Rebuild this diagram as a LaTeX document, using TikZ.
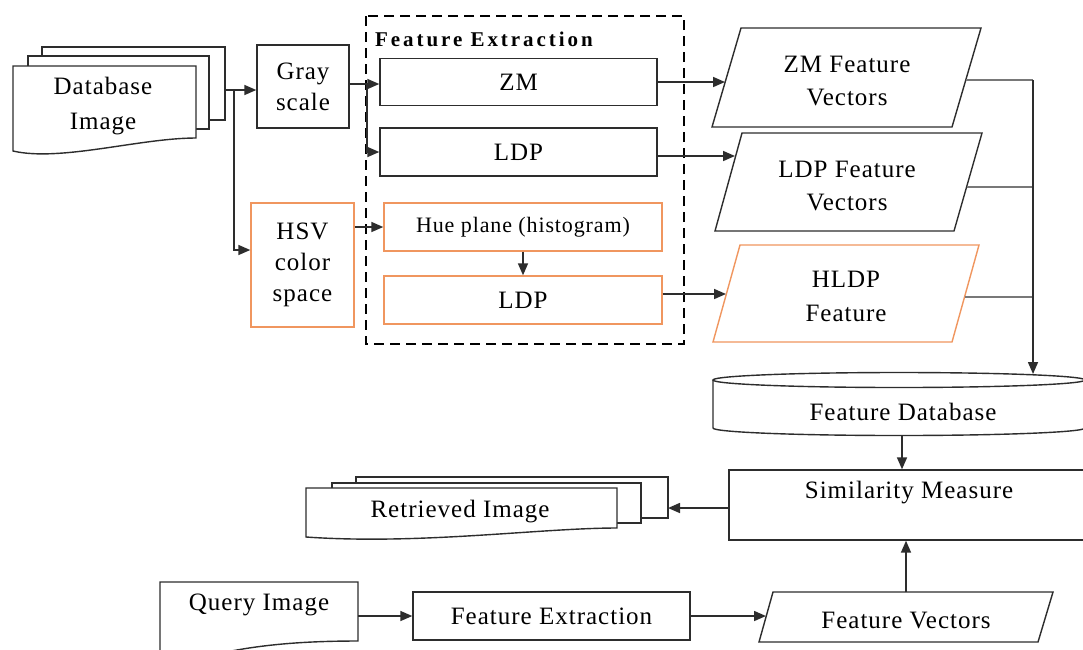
\documentclass[tikz,border=0pt]{standalone}
\usepackage{fontspec}
\setmainfont{Liberation Serif}[LetterSpace=4]
\usetikzlibrary{arrows.meta}
\definecolor{org}{RGB}{240,150,95}
\definecolor{ln}{RGB}{45,45,45}
\definecolor{lg}{RGB}{120,120,120}
\begin{document}
\begin{tikzpicture}[x=1pt,y=-1pt,
  every node/.style={font=\fontsize{25}{31}\selectfont, align=center, inner sep=0pt},
  box/.style={draw=ln, line width=1.4pt, fill=white},
  obox/.style={draw=org, line width=1.4pt, fill=white},
  shp/.style={draw=ln, line width=1.4pt, fill=white},
  oshp/.style={draw=org, line width=1.4pt, fill=white},
  arr/.style={draw=ln, line width=1.6pt, -{Triangle[length=12pt,width=10pt]}},
  con/.style={draw=ln, line width=1.6pt},
  gcon/.style={draw=lg, line width=1.6pt}]
\clip (0,0) rectangle (1083,649);
\fill[white] (0,0) rectangle (1083,649);

% ---- Database image stack
\draw[shp] (42,47) rectangle (225,120);
\draw[shp] (28,56) rectangle (209,129);
\draw[shp] (13,66) -- (196,66) -- (196,138) .. controls (140,138) and (60,162) .. (13,151) -- cycle;
\node[font=\fontsize{25}{35}\selectfont] (dbimg) at (103,106) {Database\\Image};
\coordinate (stackout) at (225,90);
\coordinate (br) at (234,90);

% ---- Gray scale, HSV
\node[box, minimum width=92pt, minimum height=83pt] (gray) at (303,86.5) {Gray\\scale};
\node[obox, minimum width=103pt, minimum height=124pt] (hsv) at (302.5,265) {HSV\\color\\space};

% ---- Feature extraction frame
\draw[black, line width=2.8pt, dash pattern=on 10pt off 6pt] (366,16) rectangle (684,344);
\node[anchor=west, font=\fontsize{21}{25}\selectfont\bfseries\addfontfeature{LetterSpace=14}] (fetitle) at (375,39) {Feature Extraction};

\node[box, minimum width=277pt, minimum height=47pt] (zm) at (518.5,82) {ZM};
\node[box, minimum width=277pt, minimum height=48pt] (ldp) at (518.5,152) {LDP};
\node[obox, minimum width=278pt, minimum height=48pt, font=\fontsize{22}{26}\selectfont] (hue) at (523,227) {Hue plane (histogram)};
\node[obox, minimum width=278pt, minimum height=48pt] (ldp2) at (523,300) {LDP};

% ---- feature vector parallelograms
\draw[shp] (712,127) -- (741,28) -- (981,28) -- (952,127) -- cycle;
\node[font=\fontsize{25}{33}\selectfont] (zmfv) at (847,81) {ZM Feature\\Vectors};
\draw[shp] (715,231) -- (742,133) -- (982,133) -- (954,231) -- cycle;
\node[font=\fontsize{25}{33}\selectfont] (ldpfv) at (847,186) {LDP Feature\\Vectors};
\draw[oshp] (713,342) -- (740,245) -- (979,245) -- (952,342) -- cycle;
\node[font=\fontsize{25}{34}\selectfont] (hldp) at (846,296) {HLDP\\Feature};
\coordinate (zmfvin) at (725,82);
\coordinate (ldpfvin) at (735,156);
\coordinate (hldpin) at (726,294);
\coordinate (zmfvout) at (966,80);
\coordinate (ldpfvout) at (967,187);
\coordinate (hldpout) at (965,297);
\coordinate (col) at (1033,80);
\coordinate (dbtop) at (1033,374);

% ---- Feature database cylinder
\draw[shp] (713,380) -- (713,428) arc[start angle=180, end angle=360, x radius=186pt, y radius=7.5pt] -- (1085,380);
\draw[shp] (899,380) ellipse[x radius=186pt, y radius=7.5pt];
\node (fdb) at (903,412) {Feature Database};
\coordinate (dbbot) at (902,436);

% ---- Similarity measure
\node[box, minimum width=372pt, minimum height=70pt] (sim) at (915,505) {};
\node (simtxt) at (909,493) {Similarity Measure};

% ---- Retrieved image stack
\draw[shp] (356,477) rectangle (668,518);
\draw[shp] (332,483) rectangle (641,523);
\draw[shp] (306,488) -- (617,488) -- (617,528) .. controls (540,528) and (420,545) .. (306,537) -- cycle;
\node (ret) at (460,512) {Retrieved Image};
\coordinate (retin) at (668,508);

% ---- Query row
\draw[shp] (160,670) -- (160,582) -- (358,582) -- (358,641) .. controls (300,641) and (250,645) .. (200,658);
\node (qimg) at (259,605) {Query Image};
\coordinate (qout) at (358,616);
\node[box, minimum width=277pt, minimum height=48pt] (fe2) at (551.5,616) {Feature Extraction};
\draw[shp] (759,642) -- (773,592) -- (1053,592) -- (1038,642) -- cycle;
\node (fv) at (906,620) {Feature Vectors};
\coordinate (fvin) at (766,616);
\coordinate (fvtop) at (906,592);

% ---- connectors
\draw[arr] (stackout) -- (stackout -| gray.west);
\draw[arr] (br) |- ([yshift=15pt]hsv.west);
\coordinate (gz) at (367,84);
\draw[con] (gray.east |- gz) -- (gz);
\draw[arr] (gz) -- (gz -| zm.west);
\draw[arr] (gz) |- (ldp.west);
\draw[arr] (hsv.east |- hue.west) -- (hue.west);
\draw[arr] (hue.south) -- (ldp2.north);
\draw[arr] (zm.east) -- (zmfvin);
\draw[arr] (ldp.east |- ldpfvin) -- (ldpfvin);
\draw[arr] (ldp2.east |- hldpin) -- (hldpin);
\draw[gcon] (zmfvout) -- (col);
\draw[gcon] (ldpfvout) -- (ldpfvout -| col);
\draw[gcon] (hldpout) -- (hldpout -| col);
\draw[gcon, -{Triangle[length=12pt,width=10pt]}, ln] (col) -- (dbtop);
\draw[arr] (dbbot) -- (dbbot |- sim.north);
\draw[arr] (retin -| sim.west) -- (retin);
\draw[arr] (qout) -- (fe2.west);
\draw[arr] (fe2.east) -- (fvin);
\draw[arr] (fvtop) -- (fvtop |- sim.south);
\end{tikzpicture}
\end{document}
